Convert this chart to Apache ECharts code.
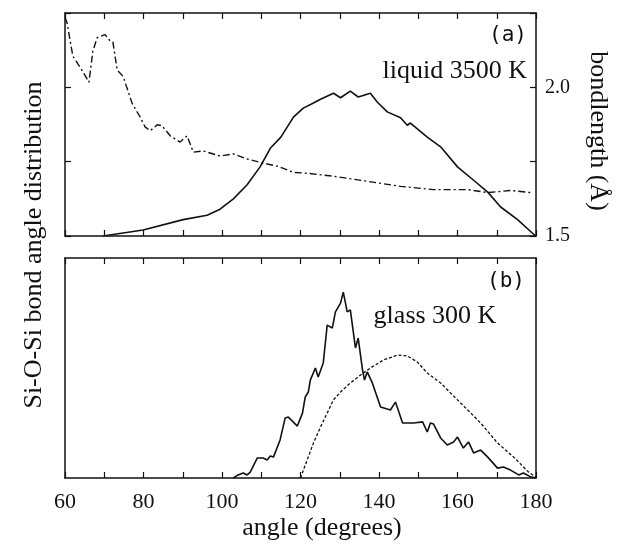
<!DOCTYPE html>
<html>
<head>
<meta charset="utf-8">
<script src="https://cdn.jsdelivr.net/npm/echarts@6/dist/echarts.min.js"></script>
<style>
html,body{margin:0;padding:0;background:#fff;}
#chart{width:618px;height:550px;}
</style>
</head>
<body>
<div id="chart"></div>
<script>
// ---- data ----
// (a) liquid 3500 K : Si-O-Si bond angle distribution (arbitrary units, left axis)
const liqAngle = [69.7, 79.9, 90.1, 96.2, 99.5, 102.9, 106.4, 109.7, 112.3, 115.0, 118.2, 120.7, 123.3, 125.1, 128.4, 130.2, 132.7, 134.7, 137.8, 139.6, 142.1, 145.5, 147.2, 148.0, 152.3, 155.7, 160.0, 164.1, 167.7, 171.0, 175.3, 179.9];
const liqDist  = [0.00, 0.08, 0.22, 0.28, 0.36, 0.50, 0.69, 0.93, 1.18, 1.33, 1.60, 1.72, 1.79, 1.84, 1.92, 1.86, 1.95, 1.87, 1.92, 1.80, 1.67, 1.59, 1.49, 1.52, 1.33, 1.20, 0.93, 0.75, 0.59, 0.39, 0.22, 0.00];
// (a) liquid 3500 K : bondlength (Å, right axis)
const bondAngle = [60.0, 60.5, 62.0, 64.3, 66.1, 67.1, 68.2, 70.2, 71.5, 72.2, 73.3, 74.8, 77.1, 79.1, 80.4, 81.7, 83.5, 84.7, 86.8, 89.3, 91.1, 92.7, 95.2, 99.5, 102.9, 106.4, 110.5, 114.1, 118.2, 121.7, 128.4, 137.0, 145.5, 153.9, 162.6, 167.7, 173.5, 178.6];
const bondLen   = [2.235, 2.218, 2.105, 2.058, 2.017, 2.122, 2.167, 2.177, 2.156, 2.153, 2.058, 2.037, 1.946, 1.901, 1.867, 1.854, 1.874, 1.871, 1.837, 1.816, 1.837, 1.782, 1.786, 1.769, 1.776, 1.759, 1.745, 1.735, 1.714, 1.711, 1.701, 1.684, 1.667, 1.656, 1.656, 1.646, 1.653, 1.646];
// (b) glass 300 K : solid curve
const glassAngle = [102.9, 104.1, 105.4, 106.4, 107.2, 109.0, 110.5, 111.5, 112.3, 113.1, 114.8, 116.1, 116.9, 119.2, 120.5, 121.2, 122.0, 122.5, 123.8, 124.5, 125.8, 126.8, 128.1, 128.9, 130.2, 130.9, 131.9, 132.7, 134.0, 134.7, 135.8, 136.3, 137.0, 138.3, 140.4, 142.9, 144.2, 146.0, 148.8, 151.1, 152.3, 153.1, 153.9, 155.7, 157.4, 159.0, 160.0, 161.5, 162.8, 164.1, 165.9, 167.7, 170.2, 171.7, 173.5, 175.6, 176.8, 178.6, 179.9];
const glassDist  = [0.00, 0.14, 0.23, 0.14, 0.27, 0.91, 0.91, 0.82, 1.00, 0.95, 1.73, 2.73, 2.77, 2.36, 2.95, 3.68, 3.91, 4.45, 5.00, 4.59, 5.23, 6.95, 6.82, 7.55, 7.95, 8.45, 7.55, 7.64, 5.91, 6.36, 4.91, 4.45, 4.82, 4.32, 3.23, 3.09, 3.45, 2.50, 2.50, 2.55, 2.09, 2.50, 2.45, 1.82, 1.50, 1.64, 1.86, 1.36, 1.64, 1.14, 1.27, 0.95, 0.45, 0.50, 0.36, 0.14, 0.23, 0.05, 0.00];
// (b) glass 300 K : dotted curve
const dotAngle = [120.0, 121.7, 123.3, 125.1, 126.8, 128.4, 130.2, 132.7, 135.3, 137.8, 141.1, 144.7, 147.2, 149.8, 152.3, 155.7, 160.0, 162.6, 165.9, 170.2, 174.3, 178.1, 179.9];
const dotDist  = [0.00, 0.82, 1.59, 2.32, 2.95, 3.55, 3.91, 4.32, 4.68, 5.00, 5.36, 5.59, 5.55, 5.27, 4.77, 4.32, 3.55, 3.09, 2.50, 1.59, 0.95, 0.27, 0.05];
// axis tick labels
const xTickLabels = [60, 80, 100, 120, 140, 160, 180];
const bondTickLabels = [1.5, 2.0];

const zip = (a, b) => a.map((v, i) => [v, b[i]]);

const serif = "'Liberation Serif', 'DejaVu Serif', 'Times New Roman', serif";
const mono = "'DejaVu Sans Mono', monospace";
const ink = '#111';

function xAx(gridIndex, position, showLabels) {
  return {
    type: 'value', gridIndex, position, min: 60, max: 180, interval: 10,
    axisLine: { show: true, onZero: false, lineStyle: { color: ink, width: 1.5 } },
    axisTick: { show: true, inside: true, length: 6, lineStyle: { color: ink, width: 1.2 } },
    axisLabel: {
      show: showLabels, margin: 13, color: ink, fontFamily: serif, fontSize: 22,
      formatter: v => xTickLabels.indexOf(v) >= 0 ? String(v) : ''
    },
    splitLine: { show: false }
  };
}

const chart = echarts.init(document.getElementById('chart'), null, { renderer: 'canvas' });
chart.setOption({
  animation: false,
  backgroundColor: '#fff',
  grid: [
    { left: 65, right: 82, top: 13, height: 223, containLabel: false, outerBoundsMode: 'none' },
    { left: 65, right: 82, top: 258, height: 220, containLabel: false, outerBoundsMode: 'none' }
  ],
  xAxis: [ xAx(0, 'bottom', false), xAx(0, 'top', false), xAx(1, 'bottom', true), xAx(1, 'top', false) ],
  yAxis: [
    { type: 'value', gridIndex: 0, position: 'left', min: 0, max: 3, interval: 1,
      axisLine: { show: true, lineStyle: { color: ink, width: 1.5 } },
      axisTick: { show: true, inside: true, length: 6, lineStyle: { color: ink, width: 1.2 } },
      axisLabel: { show: false }, splitLine: { show: false } },
    { type: 'value', gridIndex: 0, position: 'right', min: 1.5, max: 2.25, interval: 0.25,
      axisLine: { show: true, lineStyle: { color: ink, width: 1.5 } },
      axisTick: { show: true, inside: true, length: 6, lineStyle: { color: ink, width: 1.2 } },
      axisLabel: { show: true, margin: 9, color: ink, fontFamily: serif, fontSize: 20,
        formatter: v => bondTickLabels.some(t => Math.abs(t - v) < 1e-9) ? v.toFixed(1) : '' },
      splitLine: { show: false } },
    { type: 'value', gridIndex: 1, position: 'left', min: 0, max: 10,
      axisLine: { show: true, lineStyle: { color: ink, width: 1.5 } },
      axisTick: { show: false }, axisLabel: { show: false }, splitLine: { show: false } },
    { type: 'value', gridIndex: 1, position: 'right', min: 0, max: 10,
      axisLine: { show: true, lineStyle: { color: ink, width: 1.5 } },
      axisTick: { show: false }, axisLabel: { show: false }, splitLine: { show: false } }
  ],
  series: [
    { type: 'line', xAxisIndex: 0, yAxisIndex: 0, data: zip(liqAngle, liqDist), showSymbol: false,
      lineStyle: { color: ink, width: 1.6 }, silent: true },
    { type: 'line', xAxisIndex: 0, yAxisIndex: 1, data: zip(bondAngle, bondLen), showSymbol: false,
      lineStyle: { color: ink, width: 1.4, type: [7, 3, 2, 3] }, silent: true },
    { type: 'line', xAxisIndex: 2, yAxisIndex: 2, data: zip(glassAngle, glassDist), showSymbol: false,
      lineStyle: { color: ink, width: 1.6 }, silent: true },
    { type: 'line', xAxisIndex: 2, yAxisIndex: 2, data: zip(dotAngle, dotDist), showSymbol: false,
      lineStyle: { color: ink, width: 1.3, type: [3, 2] }, silent: true }
  ],
  graphic: [
    { type: 'text', x: 527, y: 36, style: { text: '(a)', fill: ink, font: '21px ' + mono, align: 'right', verticalAlign: 'middle' } },
    { type: 'text', x: 527, y: 71, style: { text: 'liquid 3500 K', fill: ink, font: '26px ' + serif, align: 'right', verticalAlign: 'middle' } },
    { type: 'text', x: 525, y: 282, style: { text: '(b)', fill: ink, font: '21px ' + mono, align: 'right', verticalAlign: 'middle' } },
    { type: 'text', x: 435, y: 316, style: { text: 'glass 300 K', fill: ink, font: '26px ' + serif, align: 'center', verticalAlign: 'middle' } },
    { type: 'text', x: 322, y: 528, style: { text: 'angle (degrees)', fill: ink, font: '26px ' + serif, align: 'center', verticalAlign: 'middle' } },
    { type: 'text', x: 34, y: 245, rotation: Math.PI / 2, style: { text: 'Si-O-Si bond angle distribution', fill: ink, font: '26px ' + serif, align: 'center', verticalAlign: 'middle' } },
    { type: 'text', x: 598, y: 131, rotation: -Math.PI / 2, style: { text: 'bondlength (Å)', fill: ink, font: '26px ' + serif, align: 'center', verticalAlign: 'middle' } }
  ]
});
</script>
</body>
</html>
